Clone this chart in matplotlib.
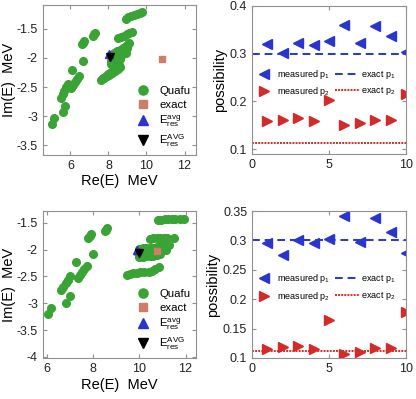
import numpy as np
import matplotlib
matplotlib.use("Agg")
import matplotlib.pyplot as plt

plt.rcParams['font.family'] = ['Liberation Sans', 'DejaVu Sans']
plt.rcParams['mathtext.fontset'] = 'custom'
plt.rcParams['mathtext.rm'] = 'Liberation Sans'

# --- data: top-left (Quafu points) ---
quafu1_x = [8.9, 9.05, 9.2, 9.35, 9.5, 9.65, 9.75,
            8.5, 8.65, 8.8, 8.95, 9.1, 9.25,
            8.3, 8.45, 8.6, 8.75, 8.9, 9.05, 9.1,
            8.2, 8.35, 8.5, 8.65, 8.8, 8.95,
            8.15, 8.3, 8.45, 8.6, 8.75, 8.9,
            8.15, 8.3, 8.45, 8.6,
            7.6, 7.75, 7.9, 8.05, 8.2, 8.35, 8.5, 8.6,
            7.7, 7.85, 8.0, 8.15, 8.3, 8.45, 8.55,
            7.2, 7.26, 7.3, 6.6, 6.65, 6.7, 6.65, 6.09,
            6.04, 6.15, 6.25, 6.35, 6.47,
            5.51, 5.6, 5.68, 5.77, 5.86,
            5.74, 5.6, 5.16, 5.04]
quafu1_y = [-1.33, -1.31, -1.29, -1.27, -1.25, -1.23, -1.22,
            -1.66, -1.64, -1.62, -1.60, -1.58, -1.56,
            -1.92, -1.89, -1.86, -1.83, -1.80, -1.77, -1.75,
            -1.99, -1.96, -1.93, -1.90, -1.87, -1.84,
            -2.06, -2.03, -2.00, -1.97, -1.94, -1.91,
            -2.10, -2.08, -2.05, -2.02,
            -2.38, -2.35, -2.32, -2.29, -2.26, -2.22, -2.19, -2.15,
            -2.34, -2.31, -2.27, -2.24, -2.20, -2.16, -2.13,
            -1.63, -1.60, -1.57, -1.77, -1.74, -1.72, -2.05, -2.21,
            -2.52, -2.46, -2.41, -2.36, -2.31,
            -2.68, -2.62, -2.56, -2.50, -2.45,
            -2.83, -2.93, -3.03, -3.13]
exact1 = (10.8, -2.02)
avg1 = (8.05, -1.93)
AVG1 = (8.1, -1.98)

# --- data: bottom-left ---
quafu2_x = [10.8, 10.95, 11.1, 11.25, 11.4, 11.55, 11.75, 11.95,
            10.45, 10.6, 10.75, 10.9, 11.05, 11.2, 11.5,
            10.0, 10.15, 10.3, 10.45, 10.6, 10.75, 10.9, 11.05, 11.2, 11.3,
            9.95, 10.1, 10.25, 10.4, 10.55, 10.7, 10.85, 11.0, 11.15,
            10.0, 10.15, 10.3, 10.45, 10.6, 10.75, 10.9,
            9.45, 9.6, 9.75, 9.9, 10.05, 10.2, 10.4, 10.55, 10.7, 10.85,
            8.5, 8.55, 8.6, 7.8, 7.85, 7.9, 7.99, 7.26,
            7.36, 7.45, 7.54, 7.63, 7.72,
            6.63, 6.72, 6.81, 6.9, 6.99,
            6.99, 6.82, 6.2, 6.06]
quafu2_y = [-1.44, -1.44, -1.43, -1.43, -1.43, -1.43, -1.43, -1.43,
            -1.80, -1.79, -1.79, -1.79, -1.79, -1.78, -1.79,
            -1.98, -1.97, -1.97, -1.96, -1.96, -1.95, -1.94, -1.94, -1.93, -1.92,
            -2.07, -2.06, -2.06, -2.05, -2.04, -2.03, -2.02, -2.01, -2.00,
            -2.14, -2.13, -2.12, -2.12, -2.11, -2.10, -2.08,
            -2.47, -2.45, -2.44, -2.43, -2.42, -2.41, -2.41, -2.40, -2.36, -2.33,
            -1.66, -1.63, -1.60, -1.79, -1.75, -1.71, -2.08, -2.23,
            -2.53, -2.47, -2.42, -2.36, -2.31,
            -2.75, -2.69, -2.62, -2.56, -2.50,
            -2.87, -2.99, -3.09, -3.20]
exact2 = (10.78, -2.02)
avg2 = (9.88, -2.0)
AVG2 = (9.97, -2.07)

# --- data: right panels ---
runs = np.arange(1, 11)
p1_top = [0.320, 0.301, 0.323, 0.319, 0.326, 0.360, 0.322, 0.358, 0.336, 0.304]
p2_top = [0.159, 0.161, 0.164, 0.159, 0.203, 0.151, 0.154, 0.160, 0.161, 0.215]
p1_bot = [0.296, 0.275, 0.300, 0.295, 0.302, 0.341, 0.298, 0.338, 0.315, 0.279]
p2_bot = [0.115, 0.118, 0.121, 0.115, 0.164, 0.107, 0.110, 0.117, 0.117, 0.178]
exact_p1 = 0.3
exact_p2 = 0.112

GREEN = '#3aa335'
BLUE = '#2a35d0'
RED = '#d42a2a'
SQ = '#cc7f66'
SPINE = '#909090'

fig = plt.figure(figsize=(4.16, 3.99), dpi=100)
ax_tl = fig.add_axes([0.103, 0.612, 0.368, 0.375])
ax_tr = fig.add_axes([0.606, 0.614, 0.370, 0.371])
ax_bl = fig.add_axes([0.103, 0.103, 0.368, 0.368])
ax_br = fig.add_axes([0.606, 0.103, 0.370, 0.368])


def style(ax):
    for s in ax.spines.values():
        s.set_color(SPINE)
    ax.tick_params(direction='in', top=True, right=True, length=3,
                   color=SPINE, labelsize=9, labelcolor='#222222')


def left_panel(ax, qx, qy, ex, av, AV, xlim, ylim, yticks):
    ax.plot(qx, qy, 'o', color=GREEN, ms=5.5, mec=GREEN, ls='none', label='Quafu')
    ax.plot(*ex, 's', color=SQ, ms=4.5, ls='none', label='exact')
    ax.plot(*av, '^', color=BLUE, ms=6, ls='none',
            label=r'$\mathrm{E}_{\mathrm{res}}^{\mathrm{avg}}$')
    ax.plot(*AV, 'v', color='black', ms=6, ls='none',
            label=r'$\mathrm{E}_{\mathrm{res}}^{\mathrm{AVG}}$')
    ax.set_xlim(xlim)
    ax.set_ylim(ylim)
    ax.set_yticks(yticks)
    ax.set_yticklabels([f'{t:g}' for t in yticks])
    ax.set_xticks([6, 8, 10, 12])
    ax.set_xlabel('Re(E)  MeV', fontsize=10.5, labelpad=2)
    ax.set_ylabel('Im(E)  MeV', fontsize=10.5, labelpad=0.5)
    ax.legend(loc='lower right', frameon=False, fontsize=8.2,
              handletextpad=0.4, labelspacing=0.3, borderaxespad=0.1,
              markerscale=1.2)
    style(ax)


def right_panel(ax, p1, p2, ylim, yticks):
    ax.plot(runs, p1, '<', color=BLUE, ms=6.5, ls='none', label=r'measured p$_1$')
    ax.plot(runs, p2, '>', color=RED, ms=6.5, ls='none', label=r'measured p$_2$')
    ax.axhline(exact_p1, color=BLUE, ls=(0, (4, 2.5)), lw=1.4, label=r'exact p$_1$')
    ax.axhline(exact_p2, color=RED, ls=(0, (1, 0.6)), lw=1.4, label=r'exact p$_2$')
    ax.set_xlim(0, 10)
    ax.set_ylim(ylim)
    ax.set_yticks(yticks)
    ax.set_yticklabels([f'{t:g}' for t in yticks])
    ax.set_xticks([0, 5, 10])
    ax.set_ylabel('possibility', fontsize=10.5, labelpad=2)
    ax.legend(loc='center left', bbox_to_anchor=(-0.06, 0.48), ncol=2,
              frameon=False, fontsize=6.5, handlelength=2.8,
              handletextpad=0.1, columnspacing=0.5, labelspacing=0.5)
    style(ax)


left_panel(ax_tl, quafu1_x, quafu1_y, exact1, avg1, AVG1,
           (4.55, 12.6), (-3.66, -1.1), [-3.5, -3, -2.5, -2, -1.5])
left_panel(ax_bl, quafu2_x, quafu2_y, exact2, avg2, AVG2,
           (5.83, 12.45), (-4.02, -1.28), [-4, -3.5, -3, -2.5, -2, -1.5])
right_panel(ax_tr, p1_top, p2_top, (0.0895, 0.4), [0.1, 0.2, 0.3, 0.4])
right_panel(ax_br, p1_bot, p2_bot, (0.1, 0.35), [0.1, 0.15, 0.2, 0.25, 0.3, 0.35])

fig.savefig('out.png', dpi=100)
